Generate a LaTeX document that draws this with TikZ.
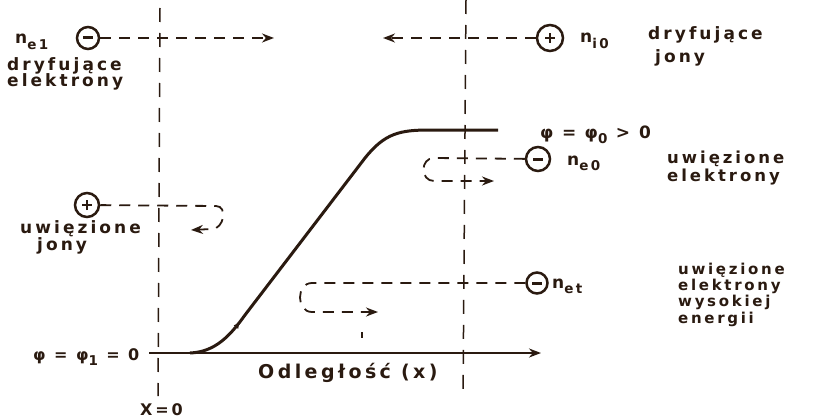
\documentclass[tikz,border=0pt]{standalone}
\usepackage{fontspec}
\setmainfont{DejaVu Sans}[LetterSpace=18]
\usetikzlibrary{arrows.meta,decorations.markings}
\definecolor{ink}{HTML}{2A1A10}
\newcommand{\lsub}[1]{\raisebox{-0.6ex}{\fontsize{13.5}{13.5}\selectfont #1}}
\begin{document}
\begin{tikzpicture}[x=1pt,y=-1pt,
  txt/.style={inner sep=0pt, text=ink, font=\bfseries\fontsize{17}{17}\selectfont, align=left, anchor=base west},
  mid/.style={txt, font=\bfseries\fontsize{16}{17}\selectfont},
  small/.style={txt, font=\bfseries\fontsize{15}{16.3}\selectfont},
  big/.style={txt, font=\bfseries\fontsize{19}{20}\selectfont},
  charge/.style={circle, draw=ink, line width=2.5pt, inner sep=0pt, minimum size=#1},
  minus/.style={path picture={\draw[ink,line width=3pt]
      ([xshift=-5pt]path picture bounding box.center) -- ([xshift=5pt]path picture bounding box.center);}},
  plus/.style={path picture={\draw[ink,line width=2.6pt]
      ([xshift=-5pt]path picture bounding box.center) -- ([xshift=5pt]path picture bounding box.center)
      ([yshift=-5pt]path picture bounding box.center) -- ([yshift=5pt]path picture bounding box.center);}},
  dsh/.style={draw=ink, line width=1.8pt, dash pattern=on 11pt off 8pt},
  vdsh/.style={draw=ink, line width=1.5pt, dash pattern=on 14pt off 11pt},
  arr/.style={-{Stealth[length=12pt,width=9pt]}}
]
\useasboundingbox[fill=white] (0,0) rectangle (814,420);

% vertical dashed lines
\coordinate (vLt) at (160,8);
\coordinate (vLb) at (158,396);
\coordinate (vRt) at (466,0);
\coordinate (vRb) at (463,398);
\draw[vdsh] (vLt) -- (vLb);
\draw[vdsh] (vRt) -- (vRb);

% axis
\coordinate (ax0) at (149,353);
\coordinate (ax1) at (541,353);
\draw[ink, line width=2pt, arr] (ax0) -- (ax1);

% potential curve
\coordinate (c0) at (190,353);
\coordinate (c1) at (245,315);
\coordinate (c2) at (365,158);
\coordinate (c3) at (430,130);
\coordinate (c4) at (498,130);
\draw[ink, line width=3pt, postaction={decorate},
  decoration={markings, mark=at position 0.15 with {\arrow{Latex[length=7pt,width=6pt]}}}]
  (c0) .. controls (215,352) and (230,336) .. (c1) -- (c2)
  .. controls (385,133) and (400,130) .. (c3) -- (c4);

% small tick
\coordinate (tk0) at (362,332);
\coordinate (tk1) at (362,338);
\draw[ink, line width=1.4pt] (tk0) -- (tk1);

% charges
\node[charge=22pt, minus] (ce1) at (88,38) {};
\node[charge=26pt, plus] (ci0) at (550,38) {};
\node[charge=24pt, minus] (ce0) at (538,159) {};
\node[charge=24pt, plus] (cion) at (87,205) {};
\node[charge=21pt, minus] (cet) at (537,283) {};

% drifting particles
\coordinate (a1) at (274,38);
\coordinate (a2) at (383,38);
\draw[dsh, arr] (ce1) -- (a1);
\draw[dsh, arr] (ci0) -- (a2);

% trapped ions loop
\coordinate (iA) at (216,206);
\coordinate (iB) at (212,229);
\coordinate (iC) at (191,230);
\draw[dsh, arr] (cion) -- (iA) .. controls +(12,0) and +(12,0) .. (iB) -- (iC);

% trapped electrons loop
\coordinate (eA) at (434,158);
\coordinate (eB) at (434,181);
\coordinate (eC) at (494,181);
\draw[dsh, arr] (ce0) -- (eA) .. controls +(-14,0) and +(-14,0) .. (eB) -- (eC);

% high energy trapped electrons loop
\coordinate (tA) at (312,283);
\coordinate (tB) at (312,312);
\coordinate (tC) at (378,312);
\draw[dsh, arr] (cet) -- (tA) .. controls +(-16,0) and +(-16,0) .. (tB) -- (tC);

% texts
\node[txt] (tne1) at (15,44) {n\lsub{e1}};
\node[txt] (tdrel) at (7,87) {dryfujące\\elektrony};
\node[txt] (tni0) at (580,43) {n\lsub{i0}};
\node[txt] (tdrj) at (648,40) {dryfujące};
\node[txt] (tjony) at (655,63) {jony};
\node[txt] (tphi0) at (540,138) {φ\enspace=\enspace φ\lsub{0}\enspace> 0};
\node[txt] (tne0) at (567,165) {n\lsub{e0}};
\node[txt, font=\bfseries\fontsize{16.5}{18}\selectfont] (tuwe) at (667,181) {uwięzione\\elektrony};
\node[txt] (tuwj) at (20,233) {uwięzione};
\node[txt] (tjony2) at (37,250) {jony};
\node[txt] (tnet) at (552,288) {n\lsub{et}};
\node[small] (tuwhe) at (678,323) {uwięzione\\elektrony\\wysokiej\\energii};
\node[mid] (tphi1) at (33,360) {φ = φ\lsub{1} = 0};
\node[big] (todl) at (258,378) {Odległość (x)};
\node[mid] (tx0) at (140,415) {X=0};
\end{tikzpicture}
\end{document}
